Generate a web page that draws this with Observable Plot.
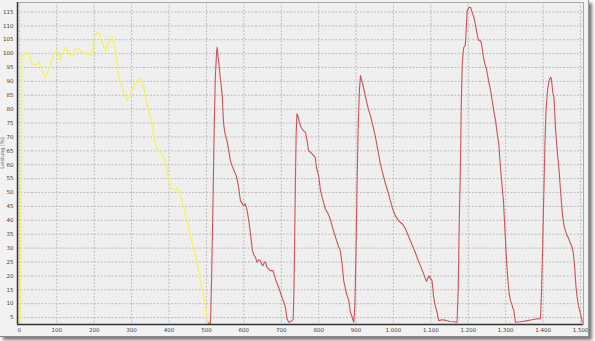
<!DOCTYPE html>
<html>
<head>
<meta charset="utf-8">
<script src="https://cdn.jsdelivr.net/npm/d3@7"></script>
<script src="https://cdn.jsdelivr.net/npm/@observablehq/plot@0.6"></script>
<style>
  html, body { margin: 0; padding: 0; background: #fbfbfb; }
  #wrap {
    position: absolute; left: 0; top: 0;
    width: 588px; height: 336px;
    background: #f2f2f2;
    box-shadow: 3px 3px 3px #7a7a7a;
    border-right: 1px solid #999; border-bottom: 1px solid #888;
    overflow: hidden;
  }
  #ylab {
    position: absolute; left: -14px; top: 150px;
    transform: rotate(-90deg);
    font: 5px "DejaVu Sans", sans-serif; color: #666; white-space: nowrap;
  }
</style>
</head>
<body>
<div id="wrap"><div id="ylab">Leistung [%]</div></div>
<script>
const yellowX = [2,5,7,11.5,20.5,29,34,43,52,56,69.5,78,92,101,110,113,123,132,141,150,159,168,181,194,199,208,216.6,221,230,239,248,256.7,265,279,288,301,315,323.5,332,341,355,363,372,386,392,399,404,417,421,430,444,460,475,484,495,505];
const yellowY = [3,60,99,99.3,100.5,98.7,96.3,95.7,96.9,95.7,91.5,93.9,99.9,101,97.5,99.3,102.3,100,98.7,101.7,101.7,100.5,99.9,99.3,105.9,107.7,106.5,104.1,101,104,105.9,101,92,86,83.1,86.7,90.3,90.9,87.9,81.9,74.7,67.5,65.1,62.7,60,54.3,51.9,50.7,51.9,49.5,42.3,33,25,18.3,11,3];

const redX = [505,511,514,518,521,524,527,528.5,531,533,535.6,538,542,546,550,555,560,564,570,575,580,586,591,596,600,604,609,613,618,623,627,631,635.5,640,644,648,651.5,655,658,662,666,671,678,684.5,693,702,707,711,715.6,720,725,729,732,734,736,738,740,742,744.5,748,753,758.5,764.7,769,773,778,782.6,787,791,794,800,805,812,818,825,832,838,845,852,858,863,867,873.5,880.5,885,890,894,897,900,903,906,909,911.8,914.5,918,922,926,929.6,934,938.5,945,952,958,965,972,979,986,992,998,1005,1012,1019,1025,1032,1038,1045,1052,1058,1065,1072,1080,1088,1095,1103,1107.5,1112,1116.5,1121,1130,1140,1150,1160,1170,1173,1176,1179,1181,1183.6,1186,1188,1192,1195,1197,1201,1206,1210,1214,1217,1222,1225,1228,1234,1237,1240.6,1244,1248.6,1252,1255,1260,1264,1268,1273,1277,1281.6,1286,1290,1294,1297,1299.5,1302,1305,1309,1313,1316.6,1319,1322,1326,1340,1355,1370,1380,1393,1396,1399,1402,1405,1408,1412,1416,1420,1422,1426,1429,1431,1433,1436,1439,1442,1447,1452,1456,1460,1464,1468,1472,1476,1480,1484,1488,1491,1495,1500,1505];
const redY = [3,3,20,50,75,92,100,102.3,99,96.9,93.3,90,85.5,74.7,71,68.7,65,61.5,59.1,57.5,56,52,47,46,45.3,45.9,43.5,40,35.1,29.1,27.5,26.7,24.9,25.8,25.5,24,23.7,25,24.9,23.1,22.5,21.9,21.9,18.9,15.9,12.3,10.5,8.7,4.5,3.3,3.6,3.9,4.5,15,35,55,72,78.3,77.7,75.5,73.5,72.3,71.7,68.7,65.1,64.5,63.9,63.2,62.7,59.1,56,50.7,47,44,42.5,40,37,34,31,29,24,18.3,14.1,11.1,6.9,5,3.3,10,30,55,75,87,92.1,90.6,89,86.5,84,81.9,79.5,77.7,74,69.9,65.5,60.3,56.5,53,50,47,44,41.7,40.2,39.2,38.5,37,35,32.7,30.5,28.5,26,23.7,21,18,20,18.3,12.3,9,6.9,3.9,4.2,4.0,3.6,3.5,3.3,15,40,59,80,95,100,102.3,103,110,115.5,116.5,116.7,115,113.5,111.9,108.3,106,104.7,104.5,102,98.7,96.5,94.5,92,89.7,86.5,83.1,79.5,75.9,71.5,67.5,59,53,47,39,32.7,26,20,14,11,9.7,8.5,7.5,3.3,3.5,3.8,4.2,4.5,4.6,15,32,50,68,80,87,90.3,91.5,91,86,84.3,79,73.5,68,63,59.1,50,41.7,38,36,34.5,33.7,32,30.9,29,24,16,12.3,9,6.3,3.3];

const xTicks = d3.range(0, 1501, 100);
const yTicks = d3.range(5, 116, 5);

const yellow = yellowX.map((x, i) => ({x, y: yellowY[i]}));
const red = redX.map((x, i) => ({x, y: redY[i]}));

const fmtX = d => d >= 1000 ? d3.format(",")(d).replace(",", ".") : String(d);

const xMin = -5, xMax = 1508, yMin = 2.5, yMax = 118.4;

const chart = Plot.plot({
  width: 588,
  height: 336,
  marginLeft: 17,
  marginRight: 5,
  marginTop: 2,
  marginBottom: 12,
  style: { background: "transparent", fontFamily: "DejaVu Sans, sans-serif", fontSize: "5.5px", color: "#444" },
  x: { domain: [xMin, xMax], ticks: xTicks, tickFormat: fmtX, label: null },
  y: { domain: [yMin, yMax], ticks: yTicks, label: null },
  marks: [
    Plot.frame({ fill: "#efefef", stroke: "#a8a8a8", strokeWidth: 1 }),
    Plot.gridX(xTicks, { stroke: "#bdbdbd", strokeOpacity: 1, strokeDasharray: "2,1.5" }),
    Plot.gridY(yTicks, { stroke: "#bdbdbd", strokeOpacity: 1, strokeDasharray: "2,1.5" }),
    Plot.axisX(xTicks, { tickSize: 0, tickPadding: 4, tickFormat: fmtX, fill: "#444" }),
    Plot.axisY(yTicks, { tickSize: 0, tickPadding: 4, fill: "#444" }),
    Plot.line(yellow, { x: "x", y: "y", stroke: "#f4f265", strokeWidth: 1.5, strokeOpacity: 0.95 }),
    Plot.line(red, { x: "x", y: "y", stroke: "#c9545a", strokeWidth: 1.1 }),
    Plot.ruleX([xMin], { stroke: "#333", strokeWidth: 1.5 }),
    Plot.ruleY([yMin], { stroke: "#333", strokeWidth: 1.5 })
  ]
});
document.getElementById("wrap").appendChild(chart);
</script>
</body>
</html>
